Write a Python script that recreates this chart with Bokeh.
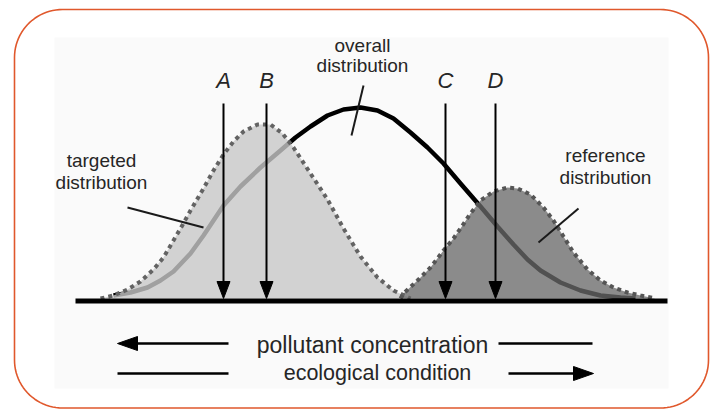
import numpy as np
from bokeh.plotting import figure
from bokeh.models import Range1d
from bokeh.core.properties import value
from bokeh.embed import file_html
from bokeh.resources import INLINE

# ---------------- data ----------------
targeted_x = [25, 38, 52, 65, 78, 88, 105, 115, 128, 138, 148, 158, 168, 182, 195, 207, 218, 235, 252, 268, 285, 302, 318, 335]
targeted_y = [0, 3, 9, 17, 29, 41, 70, 88, 110, 128, 144, 157, 167, 174, 174, 165, 151, 125, 99, 70, 42, 21, 8, 0]

overall_x = [38, 55, 72, 85, 98, 115, 128, 138, 148, 165, 185, 205, 220, 235, 252, 268, 285, 302, 318, 335, 352, 368, 385, 405, 422, 438, 452, 465, 485, 505, 525, 545, 560]
overall_y = [3, 6, 11, 18, 27, 45, 63, 78, 93, 112, 131, 148, 161, 172, 183, 189, 191, 188, 180, 166, 151, 135, 115, 92, 72, 54, 39, 28, 16, 8, 3, 1, 0]

reference_x = [325, 328, 342, 355, 368, 378, 385, 395, 405, 418, 432, 442, 455, 468, 478, 488, 498, 512, 525, 538, 552, 565, 580]
reference_y = [0, 5, 18, 31, 48, 60, 70, 85, 98, 107, 111, 110, 104, 91, 78, 62, 46, 29, 18, 11, 6, 3, 0]

marker_labels = ["A", "B", "C", "D"]
marker_x = [148, 191, 370, 420]

axis_start = 0
axis_end = 592

curve_labels = [["targeted", "distribution"], ["overall", "distribution"], ["reference", "distribution"]]
bottom_labels = ["pollutant concentration", "ecological condition"]

# ---------------- figure ----------------
W, H = 714, 409
p = figure(width=W, height=H, output_backend="svg", toolbar_location=None,
           x_range=Range1d(-75, 639), y_range=Range1d(-111, 298),
           x_axis_type=None, y_axis_type=None, min_border=0)
p.grid.visible = False
p.outline_line_color = None
p.background_fill_color = "white"
p.border_fill_color = "white"

FONT = value("Liberation Sans")
TXT = "#262626"
TY = 8  # text vertical adjustment

# faint panel
p.quad(left=[-21], right=[593], bottom=[-90], top=[261], fill_color="#fafafa", line_color=None)

# rounded border
def rounded_rect(l, r, b, t, rad, n=24):
    xs, ys = [], []
    corners = [(r - rad, t - rad, 0, 90), (l + rad, t - rad, 90, 180),
               (l + rad, b + rad, 180, 270), (r - rad, b + rad, 270, 360)]
    for cx, cy, a0, a1 in corners:
        a = np.radians(np.linspace(a0, a1, n))
        xs += list(cx + rad * np.cos(a))
        ys += list(cy + rad * np.sin(a))
    xs.append(xs[0]); ys.append(ys[0])
    return xs, ys

bx, by = rounded_rect(-61, 633, -109.5, 289, 48)
p.line(bx, by, line_color="#e0582c", line_width=1.6)

# overall distribution line (under fills)
p.line(overall_x, overall_y, line_color="black", line_width=4.5, line_join="round")

# fills
p.patch(targeted_x, targeted_y, fill_color="#c8c8c8", fill_alpha=0.8, line_color=None)
p.patch(reference_x, reference_y, fill_color="#6a6a6a", fill_alpha=0.77, line_color=None)

# dotted outlines
p.line(targeted_x, targeted_y, line_color="#636363", line_width=4, line_dash="4 4")
p.line(reference_x, reference_y, line_color="#555555", line_width=4, line_dash="4 4")

# baseline
p.line([axis_start, axis_end], [-2.5, -2.5], line_color="black", line_width=5)

# vertical arrows
shaft_top = 195
head_len, head_half = 17, 6.5
for mx in marker_x:
    p.line([mx, mx], [shaft_top, head_len - 2], line_color="black", line_width=2)
p.patches([[mx - head_half, mx + head_half, mx] for mx in marker_x],
          [[head_len, head_len, 0] for _ in marker_x],
          fill_color="black", line_color="black", line_width=1)
p.text(x=marker_x, y=[210 + TY] * len(marker_x), text=marker_labels, text_font=FONT,
       text_font_size="22px", text_font_style="italic", text_align="center",
       text_baseline="alphabetic", text_color=TXT)

# curve labels
lab_cx = [26, 287, 530]
lab_y1 = [130, 245, 135]
lab_y2 = [108, 225, 113]
xs, ys, ts = [], [], []
for i, (l1, l2) in enumerate(curve_labels):
    xs += [lab_cx[i], lab_cx[i]]
    ys += [lab_y1[i] + TY, lab_y2[i] + TY]
    ts += [l1, l2]
p.text(x=xs, y=ys, text=ts, text_font=FONT, text_font_size="19px",
       text_align="center", text_baseline="alphabetic", text_color=TXT)

# leader lines
p.multi_line([[52, 128], [288, 276], [503, 463]], [[91, 71], [213, 163], [90, 56]],
             line_color="#1a1a1a", line_width=2)

# bottom arrows and texts
r1, r2 = -45, -75
p.multi_line([[56, 153], [423, 517], [42, 153], [433, 505]], [[r1, r1], [r1, r1], [r2, r2], [r2, r2]],
             line_color="black", line_width=2.6)
p.patches([[42, 62, 62], [518, 498, 498]], [[r1, r1 + 7, r1 - 7], [r2, r2 + 7, r2 - 7]],
          fill_color="black", line_color="black", line_width=1)
p.text(x=[297], y=[-54 + TY], text=bottom_labels[:1], text_font=FONT,
       text_font_size="23px", text_align="center", text_baseline="alphabetic", text_color=TXT)
p.text(x=[302], y=[-82 + TY], text=bottom_labels[1:], text_font=FONT,
       text_font_size="21.5px", text_align="center", text_baseline="alphabetic", text_color=TXT)

open("out.html", "w").write(file_html(p, INLINE))
